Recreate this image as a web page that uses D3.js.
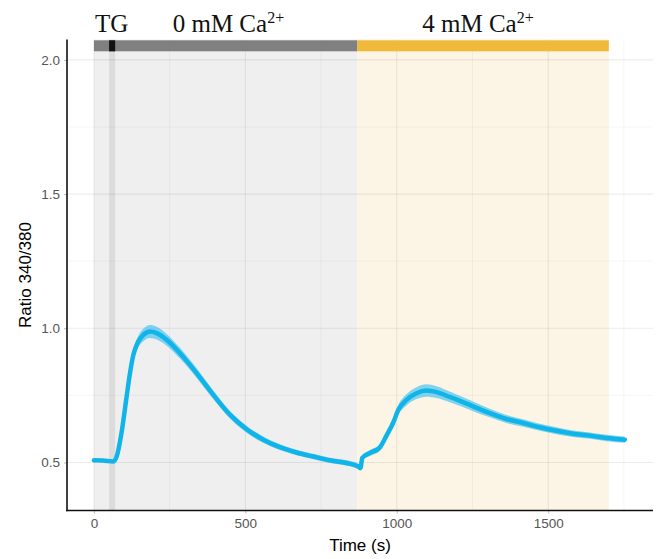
<!DOCTYPE html>
<html><head><meta charset="utf-8">
<script src="https://cdn.jsdelivr.net/npm/d3@7"></script>
<style>body{margin:0;background:#fff;} svg{display:block;}</style>
</head><body>
<svg id="c" width="657" height="559"></svg>
<script>
// ---- data ----
const times = [0, 30, 64, 75, 91, 108, 119, 130, 146, 163, 185, 207, 240, 284, 339, 394, 449, 504, 559, 614, 669, 724, 779, 834, 873, 880, 886, 911, 944, 966, 988, 1005, 1032, 1065, 1098, 1131, 1175, 1252, 1307, 1362, 1417, 1472, 1527, 1582, 1638, 1693, 1753];
const meanRatio = [0.508, 0.507, 0.504, 0.522, 0.61, 0.746, 0.833, 0.90, 0.95, 0.975, 0.988, 0.982, 0.957, 0.907, 0.833, 0.752, 0.678, 0.624, 0.585, 0.557, 0.537, 0.522, 0.508, 0.498, 0.485, 0.479, 0.517, 0.535, 0.556, 0.60, 0.648, 0.696, 0.733, 0.758, 0.768, 0.762, 0.744, 0.709, 0.684, 0.662, 0.647, 0.631, 0.618, 0.607, 0.600, 0.591, 0.585];
const semRatio = [0.005, 0.005, 0.005, 0.006, 0.010, 0.013, 0.016, 0.019, 0.021, 0.023, 0.024, 0.024, 0.022, 0.020, 0.018, 0.016, 0.014, 0.013, 0.012, 0.011, 0.010, 0.010, 0.010, 0.010, 0.010, 0.010, 0.010, 0.011, 0.013, 0.015, 0.017, 0.019, 0.021, 0.022, 0.023, 0.022, 0.020, 0.018, 0.016, 0.015, 0.014, 0.013, 0.013, 0.012, 0.012, 0.012, 0.012];
const phases = [
  {label: "0 mM Ca", sup: "2+", start: 0, end: 870, bar: "#808080", shade: "#efefef", labelStart: 260},
  {label: "4 mM Ca", sup: "2+", start: 870, end: 1700, bar: "#f1b93a", shade: "#fcf4e5", labelStart: 1084}
];
const tgStart = 50, tgEnd = 70;
const xTicks = [0, 500, 1000, 1500];
const xMinor = [250, 750, 1250, 1750];
const yTicks = [0.5, 1.0, 1.5, 2.0];
const yMinor = [0.75, 1.25, 1.75];
const barLow = 2.032, barHigh = 2.073;

// ---- layout ----
const svg = d3.select("#c");
const L = 67, R = 653, T = 39.5, B = 510.5;
const x = d3.scaleLinear().domain([-89, 1846]).range([L, R]);
const y = d3.scaleLinear().domain([0.321, 2.076]).range([B, T]);

// shading
svg.selectAll("rect.shade").data(phases).enter().append("rect")
  .attr("x", d => x(d.start)).attr("width", d => x(d.end) - x(d.start))
  .attr("y", T).attr("height", B - T).attr("fill", d => d.shade);
// TG band
svg.append("rect").attr("x", x(tgStart)).attr("width", x(tgEnd) - x(tgStart))
  .attr("y", T).attr("height", B - T).attr("fill", "#000").attr("opacity", 0.08);

// grid
const grid = svg.append("g");
grid.selectAll("line.ymaj").data(yTicks).enter().append("line")
  .attr("x1", L).attr("x2", R).attr("y1", d => y(d)).attr("y2", d => y(d))
  .attr("stroke", "rgba(0,0,0,0.075)").attr("stroke-width", 1.1);
grid.selectAll("line.ymin").data(yMinor).enter().append("line")
  .attr("x1", L).attr("x2", R).attr("y1", d => y(d)).attr("y2", d => y(d))
  .attr("stroke", "rgba(0,0,0,0.06)").attr("stroke-width", 0.7);
grid.selectAll("line.xmaj").data(xTicks).enter().append("line")
  .attr("y1", T).attr("y2", B).attr("x1", d => x(d)).attr("x2", d => x(d))
  .attr("stroke", "rgba(0,0,0,0.075)").attr("stroke-width", 1.1);
grid.selectAll("line.xmin").data(xMinor).enter().append("line")
  .attr("y1", T).attr("y2", B).attr("x1", d => x(d)).attr("x2", d => x(d))
  .attr("stroke", "rgba(0,0,0,0.06)").attr("stroke-width", 0.7);

// top bars
svg.selectAll("rect.bar").data(phases).enter().append("rect")
  .attr("x", d => x(d.start)).attr("width", d => x(d.end) - x(d.start))
  .attr("y", y(barHigh)).attr("height", y(barLow) - y(barHigh)).attr("fill", d => d.bar);
svg.append("rect").attr("x", x(tgStart)).attr("width", x(tgEnd) - x(tgStart))
  .attr("y", y(barHigh)).attr("height", y(barLow) - y(barHigh)).attr("fill", "#111");

// ribbon + line
const data = times.map((t, i) => ({t, m: meanRatio[i], s: semRatio[i]}));
svg.append("path").datum(data)
  .attr("d", d3.area().x(d => x(d.t)).y0(d => y(d.m - d.s)).y1(d => y(d.m + d.s)).curve(d3.curveMonotoneX))
  .attr("fill", "#4cc4ef").attr("opacity", 0.7);
svg.append("path").datum(data)
  .attr("d", d3.line().x(d => x(d.t)).y(d => y(d.m)).curve(d3.curveMonotoneX))
  .attr("fill", "none").attr("stroke", "#10b4e8").attr("stroke-width", 4.5)
  .attr("stroke-linejoin", "round").attr("stroke-linecap", "round");

// axes
const xAxis = d3.axisBottom(x).tickValues(xTicks).tickSize(3).tickPadding(5).tickFormat(d3.format("d"));
const gx = svg.append("g").attr("transform", `translate(0,${B})`).call(xAxis);
const yAxis = d3.axisLeft(y).tickValues(yTicks).tickSize(3).tickPadding(4).tickFormat(d3.format(".1f"));
const gy = svg.append("g").attr("transform", `translate(${L},0)`).call(yAxis);
[gx, gy].forEach(g => {
  g.select(".domain").remove();
  g.selectAll(".tick line").attr("stroke", "#bbb");
  g.selectAll(".tick text").attr("fill", "#555").style("font-family", "Liberation Sans, Arial, sans-serif").style("font-size", "13.5px");
});
svg.append("line").attr("x1", L).attr("x2", L).attr("y1", T).attr("y2", B + 0.8).attr("stroke", "#111").attr("stroke-width", 1.6);
svg.append("line").attr("x1", L - 0.8).attr("x2", R).attr("y1", B).attr("y2", B).attr("stroke", "#111").attr("stroke-width", 1.6);

// axis titles
svg.append("text").attr("x", (L + R) / 2).attr("y", 551).attr("text-anchor", "middle")
  .style("font-family", "Liberation Sans, Arial, sans-serif").style("font-size", "17px").text("Time (s)");
svg.append("text").attr("transform", `translate(31,${(T + B) / 2}) rotate(-90)`).attr("text-anchor", "middle")
  .style("font-family", "Liberation Sans, Arial, sans-serif").style("font-size", "17px").text("Ratio 340/380");

// top labels
svg.append("text").attr("x", 95).attr("y", 31.5)
  .style("font-family", "Liberation Serif, Times New Roman, serif").style("font-size", "25px").attr("fill", "#111").text("TG");
phases.forEach(p => {
  const t = svg.append("text").attr("x", x(p.labelStart)).attr("y", 31.5)
    .style("font-family", "Liberation Serif, Times New Roman, serif").style("font-size", "25px").attr("fill", "#111");
  t.append("tspan").text(p.label);
  t.append("tspan").attr("dy", -9).style("font-size", "16px").text(p.sup);
});
</script>
</body></html>
